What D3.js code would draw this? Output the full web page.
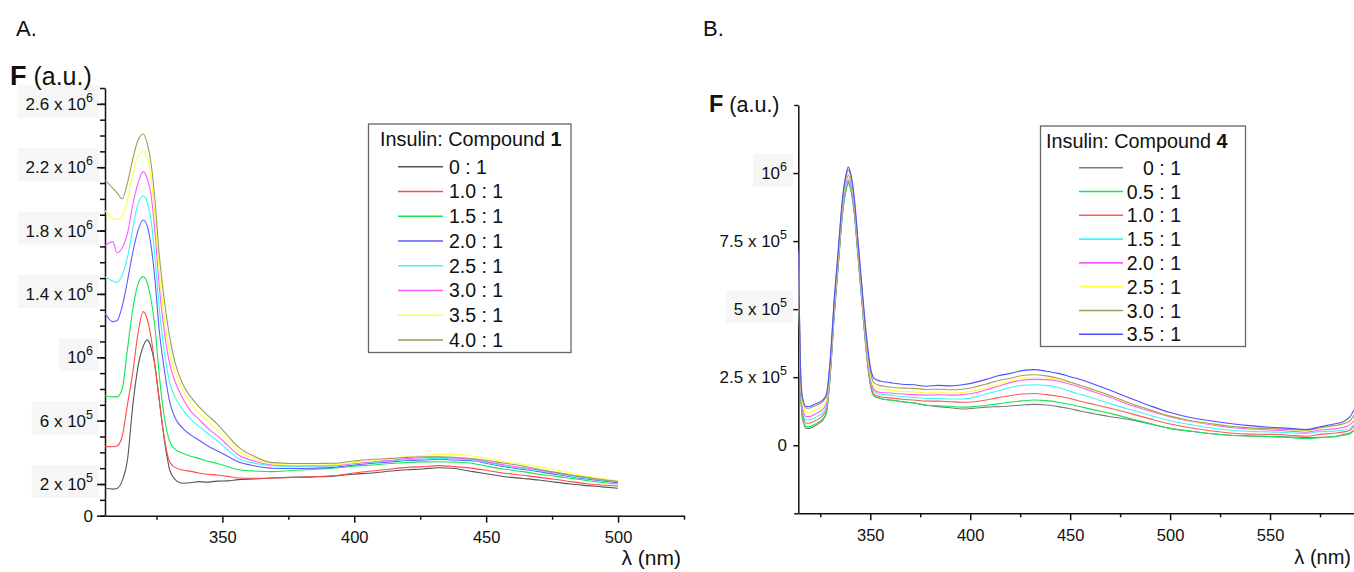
<!doctype html>
<html>
<head>
<meta charset="utf-8">
<script src="https://d3js.org/d3.v7.min.js"></script>
<style>
  body { margin: 0; background: #fff; }
  text { font-family: "Liberation Sans", Arial, sans-serif; fill: #111; }
</style>
</head>
<body>
<svg id="chart" width="1354" height="572"></svg>
<script>
// ---- panel A : insulin + compound 1 (F in units of 10^5) ----
var aWl = [305.5, 308.5, 310, 312, 314, 316, 318, 320, 321.5, 323, 324.5, 326, 328, 330, 332, 335, 338, 341, 344, 348,
           352, 356, 362, 369, 376, 384, 392, 400, 407, 414, 420, 426, 432, 438, 445, 451, 457, 464, 470, 476, 482, 488, 494, 500]
var a0  = [1.73,1.68,1.72,2.2,3.5, 6.9,9.4,10.7,11.1,10.6, 9.4,7.4,4.8,2.9,2.3, 2.05,2.08,2.15,2.12,2.18,
           2.2,2.28,2.32,2.38,2.42, 2.45,2.5,2.62,2.7,2.82, 2.9,2.95,3.03,2.98,2.78, 2.62,2.46,2.35,2.25,2.12, 2.0,1.9,1.82,1.73]
var a10 = [4.36,4.35,4.4,5.0,7.0, 9.0,11.5,12.88,12.4,11.2, 9.4,7.4,4.9,3.4,3.05, 2.88,2.8,2.7,2.62,2.57,
           2.48,2.38,2.36,2.38,2.42, 2.45,2.52,2.7,2.82,2.95, 3.05,3.1,3.16,3.1,2.99, 2.84,2.68,2.55,2.42,2.3, 2.15,2.02,1.94,1.87]
var a15 = [7.56,7.5,7.5,8.0,10.5, 13.0,14.6,15.09,14.7,13.6, 11.8,9.0,6.2,4.7,4.2, 3.94,3.75,3.62,3.45,3.3,
           3.1,2.9,2.82,2.78,2.85, 2.92,3.0,3.12,3.2,3.3, 3.36,3.4,3.41,3.38,3.3, 3.1,2.93,2.78,2.62,2.5, 2.36,2.22,2.1,2.0]
var a20 = [12.78,12.25,12.3,13.2,14.8, 16.6,18.0,18.67,18.3,17.0, 14.8,11.8,9.2,7.2,6.2, 5.52,5.1,4.78,4.45,4.1,
           3.75,3.4,3.15,3.0,2.98, 3.0,3.05,3.2,3.31,3.4, 3.48,3.52,3.56,3.52,3.47, 3.28,3.09,2.92,2.78,2.62, 2.46,2.32,2.2,2.08]
var a25 = [15.09,14.8,14.72,15.2,16.3, 18.1,19.7,20.18,19.8,18.6, 16.2,13.2,10.4,8.4,7.5, 6.7,6.1,5.65,5.25,4.75,
           4.15,3.62,3.32,3.15,3.1, 3.12,3.14,3.28,3.37,3.46, 3.53,3.58,3.62,3.58,3.52, 3.32,3.14,2.98,2.84,2.68, 2.5,2.36,2.24,2.15]
var a30 = [17.05,17.3,16.6,16.9,17.8, 19.6,21.0,21.72,21.3,20.2, 17.8,14.6,11.6,9.6,8.5, 7.4,6.6,6.1,5.6,5.05,
           4.45,3.85,3.45,3.2,3.15, 3.16,3.18,3.3,3.41,3.5, 3.6,3.66,3.69,3.64,3.56, 3.38,3.2,3.04,2.88,2.72, 2.57,2.42,2.3,2.19]
var a35 = [19.26,18.77,18.7,18.9,19.9, 21.6,22.7,22.98,22.6,21.3, 18.8,15.6,12.4,10.3,9.1, 7.9,7.1,6.5,6.0,5.4,
           4.75,4.1,3.6,3.26,3.2, 3.2,3.22,3.35,3.47,3.62, 3.72,3.8,3.86,3.88,3.77, 3.6,3.41,3.25,3.09,2.9, 2.71,2.5,2.35,2.21]
var a40 = [21.19,20.67,20.4,20.0,21.0, 22.5,23.7,24.1,23.5,22.2, 19.8,16.6,13.6,11.3,9.7, 8.3,7.5,6.9,6.4,5.8,
           5.05,4.35,3.75,3.35,3.3, 3.3,3.31,3.45,3.56,3.62, 3.68,3.72,3.72,3.68,3.6, 3.47,3.31,3.14,2.93,2.75, 2.57,2.42,2.27,2.15]
var aNames  = ["0 : 1", "1.0 : 1", "1.5 : 1", "2.0 : 1", "2.5 : 1", "3.0 : 1", "3.5 : 1", "4.0 : 1"]
var aColors = ["#555555", "#ff4a4a", "#14e650", "#5b5bff", "#3cf7f7", "#ff5cff", "#ffff3c", "#9e9c5c"]
var aYTicks = [0, 2, 6, 10, 14, 18, 22, 26]
var aYLabels = [["0", ""], ["2 x 10", "5"], ["6 x 10", "5"], ["10", "6"], ["1.4 x 10", "6"], ["1.8 x 10", "6"], ["2.2 x 10", "6"], ["2.6 x 10", "6"]]
var aXTicks = [350, 400, 450, 500]
var aXMinor = [325, 375, 425, 475, 525]

// ---- panel B : insulin + compound 4 (F in units of 10^5) ----
var bWl = [314, 315, 316, 318, 320, 322, 324, 326, 328, 330, 332, 334, 336, 338, 339, 340, 342, 344, 346, 348,
           350, 352, 355, 360, 366, 372, 378, 384, 390, 396, 402, 408, 414, 420, 426, 432, 438, 444, 450, 456,
           462, 470, 480, 490, 500, 510, 520, 530, 540, 550, 560, 568, 575, 582, 587, 590, 592]
var b0  = [6.6,2.5,1.02,0.62,0.63, 0.7,0.79,0.9,1.16,2.6, 4.8,6.6,8.45,9.45,9.67, 9.5,8.55,6.85,5.15,3.45,
           2.25,1.8,1.72,1.66,1.6, 1.55,1.47,1.42,1.38,1.33, 1.36,1.4,1.42,1.44,1.48, 1.5,1.48,1.42,1.34,1.24,
           1.16,1.05,0.94,0.78,0.62, 0.52,0.43,0.37,0.34,0.32, 0.3,0.28,0.29,0.31,0.4, 0.45,0.55]
var b05 = [6.6,2.5,1.06,0.68,0.69, 0.76,0.84,0.95,1.2,2.6, 4.8,6.6,8.4,9.4,9.62, 9.45,8.5,6.8,5.1,3.45,
           2.25,1.8,1.72,1.66,1.6, 1.55,1.47,1.45,1.43,1.4, 1.42,1.47,1.52,1.58,1.63, 1.66,1.64,1.58,1.5,1.4,
           1.3,1.17,0.98,0.8,0.62, 0.52,0.43,0.37,0.34,0.32, 0.29,0.25,0.28,0.32,0.37, 0.42,0.55]
var b10 = [6.7,2.6,1.2,0.81,0.82, 0.88,0.96,1.07,1.32,2.7, 4.9,6.7,8.5,9.5,9.72, 9.55,8.6,6.9,5.2,3.55,
           2.32,1.86,1.78,1.74,1.69, 1.66,1.62,1.62,1.6,1.58, 1.6,1.66,1.75,1.82,1.88, 1.9,1.86,1.8,1.72,1.6,
           1.5,1.36,1.17,0.97,0.78, 0.64,0.53,0.45,0.41,0.4, 0.37,0.33,0.4,0.44,0.49, 0.55,0.7]
var b15 = [6.8,2.7,1.32,0.93,0.94, 1.0,1.08,1.18,1.42,2.8, 5.0,6.8,8.6,9.55,9.77, 9.6,8.7,7.0,5.3,3.65,
           2.42,1.96,1.88,1.84,1.79, 1.76,1.72,1.72,1.7,1.7, 1.76,1.88,2.0,2.12,2.2, 2.22,2.2,2.12,1.98,1.85,
           1.72,1.53,1.31,1.1,0.9, 0.76,0.64,0.55,0.51,0.49, 0.46,0.43,0.5,0.52,0.56, 0.62,0.75]
var b20 = [6.9,2.8,1.45,1.05,1.06, 1.13,1.2,1.3,1.52,2.9, 5.1,6.9,8.7,9.7,9.92, 9.75,8.8,7.1,5.4,3.75,
           2.5,2.03,1.94,1.92,1.88, 1.86,1.84,1.85,1.84,1.86, 1.92,2.04,2.17,2.3,2.39, 2.42,2.41,2.36,2.24,2.1,
           1.96,1.76,1.48,1.25,1.05, 0.88,0.76,0.65,0.6,0.56, 0.52,0.48,0.56,0.6,0.66, 0.75,0.9]
var b25 = [7.0,2.9,1.6,1.2,1.21, 1.28,1.34,1.43,1.64,3.0, 5.2,7.0,8.85,9.85,10.07, 9.9,8.95,7.25,5.5,3.85,
           2.62,2.15,2.06,2.02,1.98, 1.96,1.92,1.93,1.92,1.94, 2.0,2.12,2.25,2.36,2.45, 2.5,2.48,2.42,2.3,2.18,
           2.03,1.82,1.53,1.3,1.08, 0.9,0.79,0.7,0.63,0.6, 0.57,0.53,0.63,0.7,0.78, 0.88,1.05]
var b30 = [7.1,3.0,1.74,1.36,1.37, 1.44,1.5,1.59,1.79,3.1, 5.3,7.1,8.9,9.9,10.12, 9.95,9.0,7.3,5.6,3.95,
           2.75,2.28,2.19,2.14,2.1, 2.09,2.05,2.06,2.04,2.06, 2.13,2.25,2.37,2.46,2.56, 2.59,2.55,2.46,2.32,2.18,
           2.03,1.83,1.54,1.3,1.07, 0.91,0.8,0.7,0.64,0.61, 0.58,0.55,0.64,0.72,0.8, 0.9,1.1]
var b35 = [7.2,3.1,1.8,1.42,1.43, 1.5,1.56,1.65,1.85,3.2, 5.4,7.2,9.0,10.0,10.22, 10.05,9.1,7.4,5.7,4.1,
           2.9,2.45,2.36,2.3,2.24, 2.22,2.17,2.2,2.18,2.22, 2.3,2.42,2.55,2.64,2.74, 2.78,2.72,2.64,2.52,2.4,
           2.24,2.02,1.73,1.45,1.2, 1.02,0.9,0.8,0.72,0.66, 0.62,0.58,0.68,0.78,0.88, 1.05,1.3]
var bNames  = ["0 : 1", "0.5 : 1", "1.0 : 1", "1.5 : 1", "2.0 : 1", "2.5 : 1", "3.0 : 1", "3.5 : 1"]
var bColors = ["#7a7a7a", "#14e650", "#ff5a5a", "#3cf7f7", "#ff5cff", "#ffff3c", "#a0a062", "#4f4fff"]
var bYTicks = [0, 2.5, 5, 7.5, 10]
var bYLabels = [["0", ""], ["2.5 x 10", "5"], ["5 x 10", "5"], ["7.5 x 10", "5"], ["10", "6"]]
var bXTicks = [350, 400, 450, 500, 550]
var bXMinor = [325, 375, 425, 475, 525, 575]

var svg = d3.select("#chart")

function drawPanel(p) {
    var g = svg.append("g")
    var x = d3.scaleLinear().domain(p.xDomain).range(p.xRange)
    var y = d3.scaleLinear().domain(p.yDomain).range(p.yRange)

    // faint boxes behind some y labels (scan artefact in the original)
    var boxes = g.append("g")

    // x axis
    var xa = g.append("g").attr("transform", "translate(0," + p.yRange[0] + ")")
        .call(d3.axisBottom(x).tickValues(p.xTicks).tickSize(7).tickSizeOuter(0).tickPadding(9).tickFormat(d3.format("d")))
    g.append("g").attr("transform", "translate(0," + p.yRange[0] + ")")
        .call(d3.axisBottom(x).tickValues(p.xMinor).tickSize(4).tickSizeOuter(0).tickFormat(function () { return "" }))
        .select(".domain").remove()
    xa.selectAll("text").style("font-size", "16.5px").attr("fill", "#111")
        .style("font-family", '"Liberation Sans", Arial, sans-serif')

    // y axis
    g.append("g").attr("transform", "translate(" + p.xRange[0] + ",0)")
        .call(d3.axisLeft(y).tickValues(p.yMinor).tickSize(p.minorLen).tickSizeOuter(0).tickFormat(function () { return "" }))
    g.append("g").attr("transform", "translate(" + p.xRange[0] + ",0)")
        .call(d3.axisLeft(y).tickValues(p.yTicks).tickSize(p.majorLen).tickSizeOuter(0).tickFormat(function () { return "" }))
        .select(".domain").remove()
    g.selectAll(".domain, .tick line").attr("stroke", "#111").attr("stroke-width", 1.5)

    p.yTicks.forEach(function (t, i) {
        var txt = g.append("text").attr("x", p.labelEnd).attr("y", y(t) + 6)
            .attr("text-anchor", "end").style("font-size", "17px")
        txt.append("tspan").text(p.yLabels[i][0])
        if (p.yLabels[i][1]) {
            txt.append("tspan").attr("dy", -8).style("font-size", "12.5px").text(p.yLabels[i][1])
        }
        if (p.boxed[i]) {
            var bb = txt.node().getBBox()
            boxes.append("rect").attr("x", bb.x - 8).attr("y", bb.y - 6)
                .attr("width", bb.width + 14).attr("height", bb.height + 10).attr("fill", "#f6f6f6")
        }
    })

    // spectra
    var clipId = "clip" + p.id
    g.append("clipPath").attr("id", clipId).append("rect")
        .attr("x", p.xRange[0]).attr("y", p.yRange[1])
        .attr("width", p.xRange[1] - p.xRange[0]).attr("height", p.yRange[0] - p.yRange[1])
    var line = d3.line().x(function (d) { return x(d[0]) }).y(function (d) { return y(d[1]) }).curve(d3.curveMonotoneX)
    p.series.forEach(function (s, i) {
        g.append("path").datum(p.wl.map(function (w, j) { return [w, s[j]] }))
            .attr("clip-path", "url(#" + clipId + ")")
            .attr("d", line).attr("fill", "none").attr("stroke", p.colors[i]).attr("stroke-width", 1.1)
    })

    // legend
    var lg = g.append("g")
    lg.append("rect").attr("x", p.leg.x).attr("y", p.leg.y).attr("width", p.leg.w).attr("height", p.leg.h)
        .attr("fill", "#fff").attr("stroke", "#666").attr("stroke-width", 1.3)
    var title = lg.append("text").attr("x", p.leg.titleX).attr("y", p.leg.titleY).style("font-size", "19.8px")
    title.append("tspan").text("Insulin: Compound ")
    title.append("tspan").style("font-weight", "bold").text(p.compound)
    p.names.forEach(function (n, i) {
        var cy = p.leg.firstY + i * p.leg.step
        lg.append("line").attr("x1", p.leg.lineX0).attr("x2", p.leg.lineX1).attr("y1", cy).attr("y2", cy)
            .attr("stroke", p.colors[i]).attr("stroke-width", 1.6)
        lg.append("text").attr("x", p.leg.textX).attr("y", cy + 7).attr("text-anchor", p.leg.anchor)
            .style("font-size", "19.5px").text(n)
    })

    // axis titles
    var ft = g.append("text").attr("x", p.fX).attr("y", p.fY).style("font-size", p.fSize + "px")
    ft.append("tspan").style("font-weight", "bold").style("font-size", (p.fSize + 2) + "px").text("F")
    ft.append("tspan").text(" (a.u.)")
    g.append("text").attr("x", p.lamX).attr("y", p.lamY).attr("text-anchor", "end")
        .style("font-size", p.lamSize + "px").text("λ (nm)")
    g.append("text").attr("x", p.tagX).attr("y", 36).style("font-size", "22px").text(p.tag)
}

drawPanel({
    id: "A", tag: "A.", tagX: 16, compound: "1",
    wl: aWl, series: [a0, a10, a15, a20, a25, a30, a35, a40], names: aNames, colors: aColors,
    xDomain: [305.5, 525], xRange: [105, 684], yDomain: [0, 27], yRange: [515.7, 88],
    xTicks: aXTicks, xMinor: aXMinor, yTicks: aYTicks, yLabels: aYLabels, yMinor: d3.range(0, 28, 1),
    boxed: [false, true, true, true, true, true, true, true],
    minorLen: 5, majorLen: 8, labelEnd: 93,
    fX: 10, fY: 85, fSize: 25, lamX: 681, lamY: 565, lamSize: 21,
    leg: { x: 368.5, y: 124, w: 202.5, h: 228.5, titleX: 380, titleY: 146, firstY: 166.7, step: 24.75,
           lineX0: 398, lineX1: 443, textX: 449, anchor: "start" }
})

drawPanel({
    id: "B", tag: "B.", tagX: 703, compound: "4",
    wl: bWl, series: [b0, b05, b10, b15, b20, b25, b30, b35], names: bNames, colors: bColors,
    xDomain: [314, 592], xRange: [798.3, 1354], yDomain: [-2.5, 12.5], yRange: [513.3, 105],
    xTicks: bXTicks, xMinor: bXMinor, yTicks: bYTicks, yLabels: bYLabels, yMinor: [-2.5, 12.5],
    boxed: [false, false, true, false, true],
    minorLen: 4, majorLen: 5, labelEnd: 787,
    fX: 709, fY: 112, fSize: 21.5, lamX: 1351, lamY: 564, lamSize: 20,
    leg: { x: 1040.5, y: 126, w: 205, h: 220.5, titleX: 1046, titleY: 148, firstY: 167.7, step: 23.8,
           lineX0: 1079, lineX1: 1123, textX: 1181, anchor: "end" }
})
</script>
</body>
</html>
